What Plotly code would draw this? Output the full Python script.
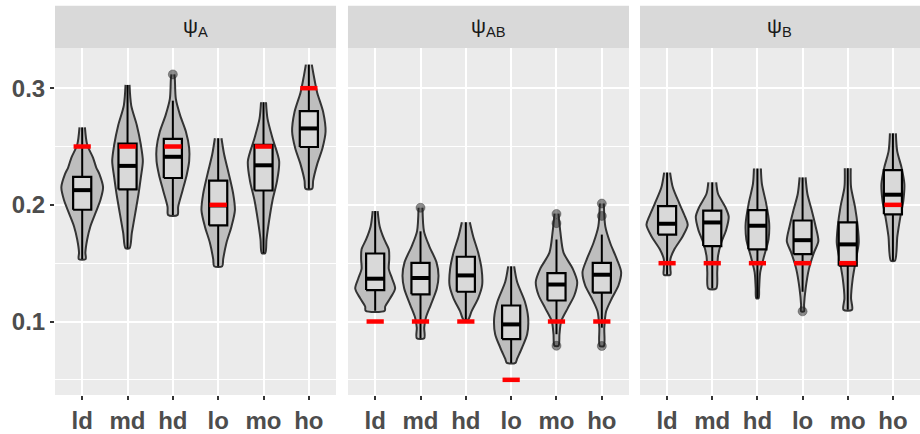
import plotly.graph_objects as go

# ---------------------------------------------------------------------------
# Data
# ---------------------------------------------------------------------------
categories = ["ld", "md", "hd", "lo", "mo", "ho"]
panel_titles = ["ψ<sub>A</sub>", "ψ<sub>AB</sub>", "ψ<sub>B</sub>"]

# true parameter values (red bars)
psiA_truth = [0.25, 0.25, 0.25, 0.20, 0.25, 0.30]
psiAB_truth = [0.10, 0.10, 0.10, 0.05, 0.10, 0.10]
psiB_truth = [0.15, 0.15, 0.15, 0.15, 0.15, 0.20]

# box summaries: lower whisker, Q1, median, Q3, upper whisker
psiA_lower = [0.1535, 0.1628, 0.1913, 0.1473, 0.1586, 0.2137]
psiA_q1 = [0.1958, 0.2132, 0.2230, 0.1824, 0.2123, 0.2496]
psiA_median = [0.2126, 0.2334, 0.2412, 0.1995, 0.2339, 0.2655]
psiA_q3 = [0.2240, 0.2524, 0.2566, 0.2207, 0.2515, 0.2804]
psiA_upper = [0.2664, 0.3028, 0.2893, 0.2571, 0.2880, 0.3202]

psiAB_lower = [0.1092, 0.0857, 0.1017, 0.0645, 0.0891, 0.0947]
psiAB_q1 = [0.1269, 0.1233, 0.1255, 0.0849, 0.1180, 0.1247]
psiAB_median = [0.1367, 0.1373, 0.1395, 0.0975, 0.1317, 0.1401]
psiAB_q3 = [0.1583, 0.1502, 0.1555, 0.1137, 0.1414, 0.1502]
psiAB_upper = [0.1947, 0.1773, 0.1851, 0.1473, 0.1703, 0.1745]

psiB_lower = [0.1401, 0.1283, 0.1199, 0.1255, 0.1101, 0.1521]
psiB_q1 = [0.1745, 0.1647, 0.1619, 0.1577, 0.1479, 0.1919]
psiB_median = [0.1838, 0.1849, 0.1821, 0.1697, 0.1661, 0.2087]
psiB_q3 = [0.1989, 0.1950, 0.1955, 0.1866, 0.1849, 0.2297]
psiB_upper = [0.2277, 0.2193, 0.2311, 0.2235, 0.2314, 0.2613]

# outlying estimates (category index, value)
psiA_outliers = [(2, 0.3118)]
psiAB_outliers = [(1, 0.1975), (4, 0.1922), (4, 0.1843), (4, 0.0792),
                  (5, 0.2011), (5, 0.1905), (5, 0.0790)]
psiB_outliers = [(3, 0.1087)]

# violin outlines: density levels (top to bottom) and half-widths
psiA_violin_y = [
    [0.2664, 0.2515, 0.2403, 0.2320, 0.2263, 0.2151, 0.2039, 0.1927, 0.1815, 0.1703, 0.1591, 0.1535],
    [0.3028, 0.2851, 0.2683, 0.2515, 0.2375, 0.2235, 0.2095, 0.1927, 0.1759, 0.1628],
    [0.3118, 0.3076, 0.2908, 0.2767, 0.2628, 0.2487, 0.2375, 0.2263, 0.2123, 0.1983, 0.1913],
    [0.2571, 0.2431, 0.2263, 0.2095, 0.1955, 0.1815, 0.1675, 0.1535, 0.1473],
    [0.2880, 0.2739, 0.2571, 0.2375, 0.2208, 0.2039, 0.1871, 0.1703, 0.1586],
    [0.3202, 0.3104, 0.2964, 0.2796, 0.2628, 0.2487, 0.2347, 0.2208, 0.2137],
]
psiA_violin_hw = [
    [0.060, 0.110, 0.240, 0.310, 0.380, 0.460, 0.400, 0.290, 0.180, 0.110, 0.070, 0.075],
    [0.044, 0.082, 0.205, 0.294, 0.338, 0.294, 0.243, 0.170, 0.095, 0.044],
    [0.033, 0.044, 0.066, 0.161, 0.287, 0.360, 0.360, 0.309, 0.214, 0.117, 0.104],
    [0.073, 0.132, 0.236, 0.331, 0.369, 0.294, 0.183, 0.110, 0.088],
    [0.055, 0.088, 0.199, 0.345, 0.300, 0.199, 0.126, 0.066, 0.038],
    [0.066, 0.110, 0.183, 0.316, 0.369, 0.302, 0.183, 0.095, 0.073],
]

psiAB_violin_y = [
    [0.1947, 0.1815, 0.1703, 0.1619, 0.1535, 0.1451, 0.1367, 0.1283, 0.1199, 0.1129, 0.1092],
    [0.1975, 0.1773, 0.1647, 0.1507, 0.1395, 0.1283, 0.1143, 0.1031, 0.0947, 0.0857],
    [0.1851, 0.1731, 0.1591, 0.1451, 0.1311, 0.1199, 0.1087, 0.1017],
    [0.1473, 0.1339, 0.1171, 0.1031, 0.0891, 0.0779, 0.0681, 0.0645],
    [0.1925, 0.1759, 0.1591, 0.1451, 0.1339, 0.1227, 0.1115, 0.1003, 0.0891, 0.0792],
    [0.2011, 0.1815, 0.1675, 0.1535, 0.1423, 0.1311, 0.1199, 0.1087, 0.0947, 0.0790],
]
psiAB_violin_hw = [
    [0.055, 0.100, 0.200, 0.300, 0.310, 0.300, 0.375, 0.440, 0.331, 0.221, 0.210],
    [0.044, 0.077, 0.192, 0.353, 0.397, 0.360, 0.227, 0.117, 0.082, 0.082],
    [0.088, 0.161, 0.272, 0.347, 0.360, 0.272, 0.126, 0.051],
    [0.066, 0.132, 0.302, 0.375, 0.353, 0.243, 0.132, 0.095],
    [0.044, 0.088, 0.155, 0.360, 0.457, 0.397, 0.249, 0.104, 0.066, 0.044],
    [0.044, 0.077, 0.183, 0.331, 0.426, 0.369, 0.221, 0.095, 0.055, 0.044],
]

psiB_violin_y = [
    [0.2277, 0.2151, 0.2011, 0.1899, 0.1829, 0.1731, 0.1619, 0.1535, 0.1451, 0.1401],
    [0.2193, 0.2095, 0.1983, 0.1899, 0.1787, 0.1675, 0.1563, 0.1423, 0.1283],
    [0.2311, 0.2179, 0.2011, 0.1843, 0.1703, 0.1563, 0.1423, 0.1283, 0.1199],
    [0.2235, 0.2095, 0.1955, 0.1815, 0.1689, 0.1591, 0.1451, 0.1283, 0.1143, 0.1087],
    [0.2314, 0.2151, 0.1983, 0.1815, 0.1675, 0.1535, 0.1367, 0.1199, 0.1101],
    [0.2613, 0.2460, 0.2319, 0.2179, 0.2039, 0.1899, 0.1731, 0.1521],
]
psiB_violin_hw = [
    [0.066, 0.126, 0.272, 0.397, 0.457, 0.347, 0.161, 0.073, 0.073, 0.073],
    [0.088, 0.128, 0.287, 0.364, 0.309, 0.199, 0.128, 0.110, 0.088],
    [0.077, 0.099, 0.194, 0.260, 0.245, 0.150, 0.062, 0.038, 0.026],
    [0.066, 0.106, 0.201, 0.289, 0.349, 0.252, 0.141, 0.068, 0.033, 0.033],
    [0.066, 0.073, 0.161, 0.221, 0.243, 0.183, 0.110, 0.073, 0.095],
    [0.066, 0.095, 0.192, 0.254, 0.232, 0.166, 0.099, 0.044],
]

panels = [
    dict(truth=psiA_truth, lower=psiA_lower, q1=psiA_q1, median=psiA_median,
         q3=psiA_q3, upper=psiA_upper, outliers=psiA_outliers,
         vy=psiA_violin_y, vw=psiA_violin_hw),
    dict(truth=psiAB_truth, lower=psiAB_lower, q1=psiAB_q1, median=psiAB_median,
         q3=psiAB_q3, upper=psiAB_upper, outliers=psiAB_outliers,
         vy=psiAB_violin_y, vw=psiAB_violin_hw),
    dict(truth=psiB_truth, lower=psiB_lower, q1=psiB_q1, median=psiB_median,
         q3=psiB_q3, upper=psiB_upper, outliers=psiB_outliers,
         vy=psiB_violin_y, vw=psiB_violin_hw),
]

# ---------------------------------------------------------------------------
# Styling
# ---------------------------------------------------------------------------
FONT = "Liberation Sans, Arial, Helvetica, sans-serif"
PANEL_BG = "#EBEBEB"
STRIP_BG = "#D9D9D9"
VIOLIN_FILL = "#BEBEBE"
VIOLIN_LINE = "#333333"
BOX_FILL = "#D9D9D9"
BOX_HALF = 0.2
BAR_HALF = 0.19

domains = [[0.0, 0.3249], [0.3387, 0.6636], [0.6763, 1.0]]
y_range = [0.0370, 0.33445]
x_range = [0.4, 6.6]
positions = list(range(1, len(categories) + 1))


def segments(xs0, xs1, ys0, ys1):
    """Concatenate line segments into one None-separated path."""
    sx, sy = [], []
    for a, b, c, d in zip(xs0, xs1, ys0, ys1):
        sx += [a, b, None]
        sy += [c, d, None]
    return sx, sy


fig = go.Figure()

for p, panel in enumerate(panels):
    xa = "x" if p == 0 else f"x{p + 1}"
    ya = "y" if p == 0 else f"y{p + 1}"
    common = dict(xaxis=xa, yaxis=ya, hoverinfo="skip", showlegend=False)

    # violins
    for k, pos in enumerate(positions):
        ys = panel["vy"][k]
        ws = panel["vw"][k]
        vx = [pos - w for w in ws] + [pos + w for w in reversed(ws)]
        vy = list(ys) + list(reversed(ys))
        fig.add_trace(go.Scatter(
            x=vx, y=vy, mode="lines",
            line=dict(color=VIOLIN_LINE, width=2, shape="spline", smoothing=0.8),
            fill="toself", fillcolor=VIOLIN_FILL, **common,
        ))

    # whiskers
    wx, wy = segments(positions + positions, positions + positions,
                      panel["lower"] + panel["q3"], panel["q1"] + panel["upper"])
    fig.add_trace(go.Scatter(x=wx, y=wy, mode="lines",
                             line=dict(color="black", width=2), **common))

    # boxes
    bx, by = [], []
    for pos, a, b in zip(positions, panel["q1"], panel["q3"]):
        bx += [pos - BOX_HALF, pos + BOX_HALF, pos + BOX_HALF, pos - BOX_HALF, pos - BOX_HALF, None]
        by += [a, a, b, b, a, None]
    fig.add_trace(go.Scatter(x=bx, y=by, mode="lines", fill="toself",
                             fillcolor=BOX_FILL, line=dict(color="black", width=2.2),
                             **common))

    # medians
    mx, my = segments([c - BOX_HALF for c in positions], [c + BOX_HALF for c in positions],
                      panel["median"], panel["median"])
    fig.add_trace(go.Scatter(x=mx, y=my, mode="lines",
                             line=dict(color="black", width=4), **common))

    # outliers
    if panel["outliers"]:
        fig.add_trace(go.Scatter(
            x=[positions[i] for i, _ in panel["outliers"]],
            y=[v for _, v in panel["outliers"]],
            mode="markers",
            marker=dict(size=9, color="rgba(30,30,30,0.5)",
                        line=dict(width=1, color="rgba(30,30,30,0.35)")),
            **common,
        ))

    # true values
    tx, ty = segments([c - BAR_HALF for c in positions], [c + BAR_HALF for c in positions],
                      panel["truth"], panel["truth"])
    fig.add_trace(go.Scatter(x=tx, y=ty, mode="lines",
                             line=dict(color="#FF0000", width=4.5), **common))

# axes
tick_font = dict(family=FONT, size=24, color="#4D4D4D", weight="bold")
layout_axes = {}
for p in range(3):
    sx = "xaxis" if p == 0 else f"xaxis{p + 1}"
    sy = "yaxis" if p == 0 else f"yaxis{p + 1}"
    layout_axes[sx] = dict(
        domain=domains[p], range=x_range, anchor="y" if p == 0 else f"y{p + 1}",
        tickmode="array", tickvals=positions, ticktext=categories,
        showgrid=True, gridcolor="white", gridwidth=2, zeroline=False,
        ticks="outside", ticklen=4, tickwidth=2, tickcolor="#333333",
        tickfont=tick_font, showline=False, fixedrange=True,
    )
    layout_axes[sy] = dict(
        domain=[0, 1], range=y_range, anchor="x" if p == 0 else f"x{p + 1}",
        tickmode="array", tickvals=[0.1, 0.2, 0.3], ticktext=["0.1", "0.2", "0.3"],
        showticklabels=(p == 0),
        showgrid=True, gridcolor="white", gridwidth=2, zeroline=False,
        ticks="outside" if p == 0 else "", ticklen=4, tickwidth=2, tickcolor="#333333",
        tickfont=tick_font, showline=False, fixedrange=True,
        minor=dict(tickmode="array", tickvals=[0.05, 0.15, 0.25], showgrid=True,
                   gridcolor="white", gridwidth=1, ticks=""),
    )

# facet strips
strip_top = 1 + 43 / 354
shapes = []
annotations = []
for p in range(3):
    shapes.append(dict(
        type="rect", xref="paper", yref="paper",
        x0=domains[p][0], x1=domains[p][1], y0=1.0, y1=strip_top,
        fillcolor=STRIP_BG, line=dict(width=0), layer="below",
    ))
    annotations.append(dict(
        xref="paper", yref="paper", x=(domains[p][0] + domains[p][1]) / 2,
        y=(1 + strip_top) / 2, text=panel_titles[p], showarrow=False,
        font=dict(family=FONT, size=21, color="#1A1A1A"),
        xanchor="center", yanchor="middle",
    ))

fig.update_layout(
    width=920, height=434,
    margin=dict(l=55, r=0, t=48, b=32),
    paper_bgcolor="white", plot_bgcolor=PANEL_BG,
    showlegend=False, shapes=shapes, annotations=annotations,
    font=dict(family=FONT),
    **layout_axes,
)

fig.write_html("out.html")
